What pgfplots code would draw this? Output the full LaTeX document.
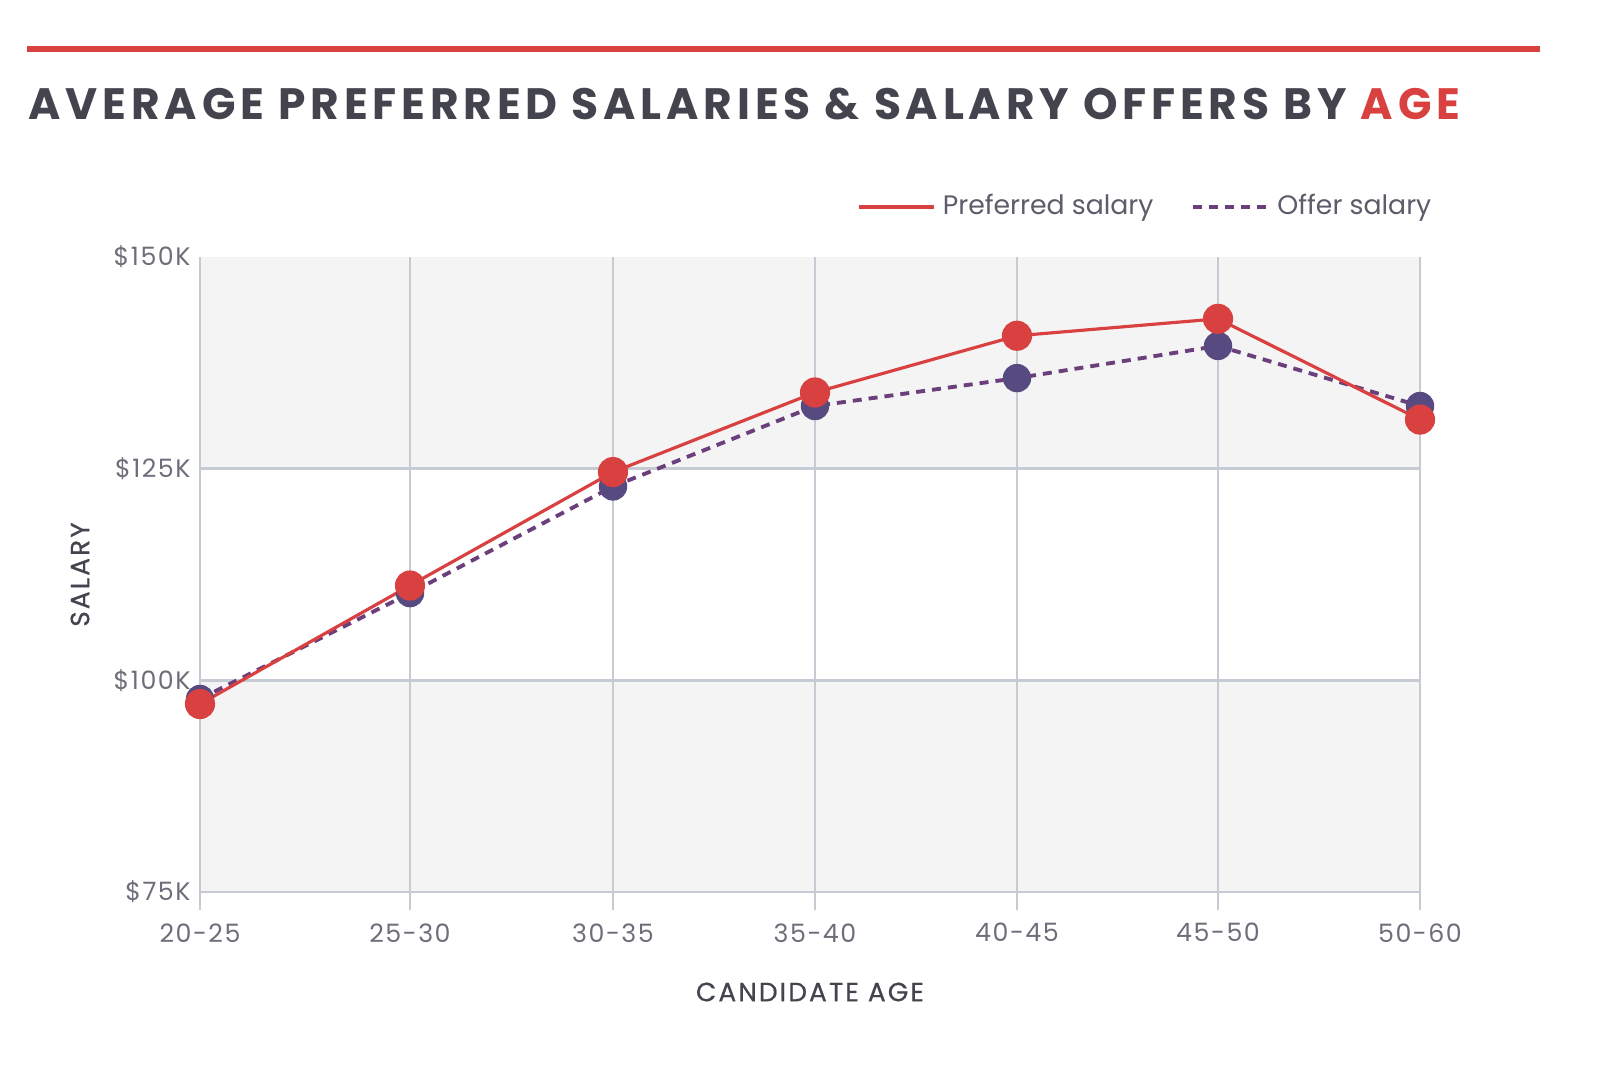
\documentclass[border=0pt]{standalone}
\usepackage{fontspec}
\usepackage{pgfplots}
\pgfplotsset{compat=1.18}
\setmainfont{Poppins}
\newfontfamily\titlefont[LetterSpace=11]{Poppins}
\newfontfamily\labelfont[LetterSpace=6]{Poppins}
\newfontfamily\axlabelfont[LetterSpace=8, FakeBold=0.6]{Poppins}
\definecolor{cred}{HTML}{D94141}
\definecolor{cpurp}{HTML}{574A80}
\definecolor{cdash}{HTML}{6B3F7C}
\definecolor{cgrid}{HTML}{C6CBD3}
\definecolor{cband}{HTML}{F4F4F4}
\definecolor{ctick}{HTML}{6E6E7A}
\definecolor{ctitle}{HTML}{44444E}
\definecolor{clegend}{HTML}{5C5C6A}
\begin{document}
\begin{tikzpicture}
\fill[cred] (0.27cm,10.13cm) rectangle (15.40cm,10.19cm);
\node[anchor=base west, inner sep=0, text=ctitle, font=\titlefont\bfseries\fontsize{12.5}{15}\selectfont] at (0.28cm,9.45cm)
  {AVERAGE PREFERRED SALARIES \& SALARY OFFERS BY \textcolor{cred}{AGE}};
\begin{axis}[
  at={(2.00cm,1.73cm)}, anchor=south west,
  scale only axis, width=12.2cm, height=6.35cm,
  xmin=0, xmax=1220, ymin=75, ymax=150,
  xtick={0,210,413,615,817,1018,1220},
  xticklabels={20-25,25-30,30-35,35-40,40-45,45-50,50-60},
  ytick={75,100,125,150},
  yticklabels={\$75K,\$100K,\$125K,\$150K},
  axis x line*=bottom, axis y line*=left,
  axis line style={draw=none},
  tick align=outside,
  x tick style={cgrid, line width=0.7pt},
  major tick length=0.18cm,
  y tick style={draw=none},
  tick label style={font=\labelfont\fontsize{7.2}{9}\selectfont, text=ctick},
  xticklabel style={yshift=-0.01cm},
  yticklabel style={xshift=0.21cm},
  xlabel={CANDIDATE AGE},
  ylabel={SALARY},
  label style={font=\axlabelfont\fontsize{7.5}{9}\selectfont, text=ctitle},
  xlabel style={at={(axis description cs:0.5,0)}, anchor=center, yshift=-1.0cm},
  ylabel style={at={(axis description cs:0,0.5)}, anchor=center, yshift=1.2cm},
  legend style={draw=none, fill=none, at={(axis description cs:1,1)}, anchor=east,
    xshift=0.19cm, yshift=0.5cm, inner sep=0pt,
    font=\fontsize{7.6}{10}\selectfont, text=clegend,
    /tikz/every even column/.append style={column sep=0.31cm}},
  legend columns=2,
  legend image code/.code={\draw[#1] (0cm,0cm) -- (0.75cm,0cm);},
  clip=false,
]
\fill[cband] (axis cs:0,125) rectangle (axis cs:1220,150);
\fill[cband] (axis cs:0,75) rectangle (axis cs:1220,100);
\draw[cgrid, line width=0.7pt] (axis cs:0,75) -- (axis cs:1220,75);
\draw[cgrid, line width=0.7pt] (axis cs:0,100) -- (axis cs:1220,100);
\draw[cgrid, line width=0.7pt] (axis cs:0,125) -- (axis cs:1220,125);
\draw[cgrid, line width=0.7pt] (axis cs:0,75) -- (axis cs:0,150);
\draw[cgrid, line width=0.7pt] (axis cs:210,75) -- (axis cs:210,150);
\draw[cgrid, line width=0.7pt] (axis cs:413,75) -- (axis cs:413,150);
\draw[cgrid, line width=0.7pt] (axis cs:615,75) -- (axis cs:615,150);
\draw[cgrid, line width=0.7pt] (axis cs:817,75) -- (axis cs:817,150);
\draw[cgrid, line width=0.7pt] (axis cs:1018,75) -- (axis cs:1018,150);
\draw[cgrid, line width=0.7pt] (axis cs:1220,75) -- (axis cs:1220,150);
\addlegendimage{cred, line width=0.9pt}
\addlegendentry{Preferred salary}
\addlegendimage{cdash, line width=1.1pt, dash pattern=on 0.09cm off 0.07cm}
\addlegendentry{Offer salary}
\addplot[forget plot, only marks, mark=*, mark size=0.135cm, cpurp, mark options={draw=none, fill=cpurp}]
  coordinates {(0,97.8) (210,110.3) (413,122.9) (615,132.4) (817,135.7) (1018,139.5) (1220,132.4)};
\addplot[forget plot, no marks, cdash, line width=1.1pt, dash pattern=on 0.09cm off 0.07cm]
  coordinates {(0,97.8) (210,110.3) (413,122.9) (615,132.4) (817,135.7) (1018,139.5) (1220,132.4)};
\addplot[forget plot, cred, line width=0.9pt, mark=*, mark size=0.135cm, mark options={draw=none, fill=cred}]
  coordinates {(0,97.2) (210,111.2) (413,124.6) (615,134.0) (817,140.7) (1018,142.7) (1220,130.8)};
\end{axis}
\pgfresetboundingbox
\path (0,0) rectangle (16cm,10.65cm);
\end{tikzpicture}
\end{document}
